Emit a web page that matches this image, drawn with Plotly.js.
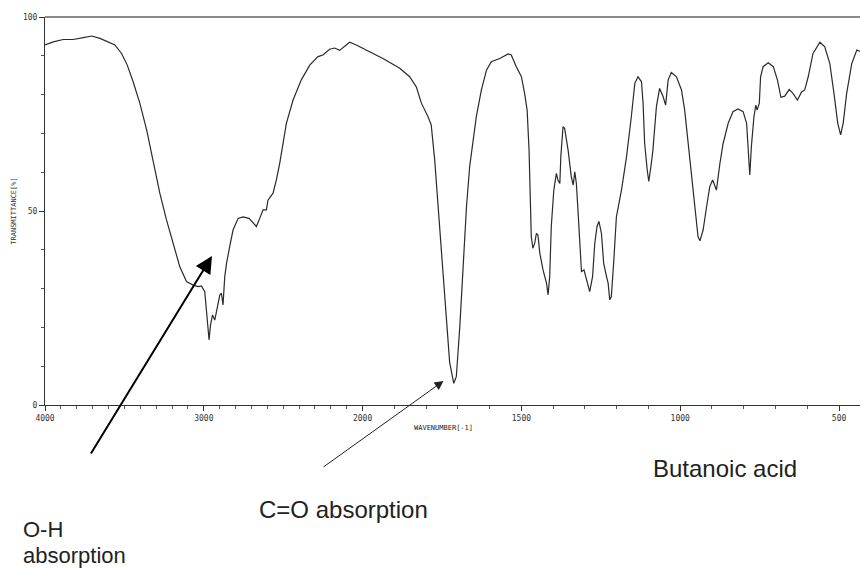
<!DOCTYPE html>
<html>
<head>
<meta charset="utf-8">
<script src="https://cdn.plot.ly/plotly-3.0.1.min.js"></script>
<style>
  html, body { margin: 0; padding: 0; background: #fff; }
  #chart { width: 860px; height: 568px; }
</style>
</head>
<body>
<div id="chart"></div>
<script>
// Wavenumber (cm-1) and % transmittance
const wavenumber = [
  4000, 3948, 3885, 3822, 3759, 3706, 3654, 3602, 3560, 3518, 3482, 3445, 3403, 3360, 3319, 3277,
  3235, 3193, 3151, 3109, 3067, 3036, 3015, 2994, 2983, 2973, 2967, 2958, 2945, 2931, 2916, 2899,
  2889, 2879, 2868, 2857, 2837, 2816, 2784, 2753, 2715, 2669, 2648, 2627, 2606, 2596, 2564, 2543,
  2522, 2501, 2480, 2438, 2386, 2333, 2281, 2250, 2208, 2176, 2145, 2103, 2082, 2040,
  1988, 1936, 1883, 1852, 1831, 1815, 1794, 1784, 1773, 1763, 1752, 1742, 1731, 1726, 1713, 1705,
  1694, 1684, 1673, 1663, 1653, 1642, 1626, 1610, 1595, 1568, 1542, 1532, 1516, 1500, 1490, 1482,
  1476, 1472, 1469, 1464, 1458, 1453, 1448, 1442, 1432, 1421, 1416, 1411, 1406, 1398, 1390, 1385,
  1379, 1376, 1369, 1364, 1353, 1343, 1337, 1332, 1327, 1322, 1316, 1311, 1303, 1295, 1285, 1276,
  1269, 1262, 1256, 1248, 1241, 1232, 1227, 1222, 1217, 1209, 1201, 1185, 1169, 1154, 1143, 1133,
  1122, 1117, 1112, 1104, 1099, 1091, 1086, 1075, 1065, 1054, 1046, 1038, 1028, 1012, 996, 986,
  975, 965, 954, 944, 938, 928, 917, 907, 898, 886, 875, 865, 849, 834, 818, 802,
  791, 786, 781, 776, 768, 762, 758, 751, 747, 739, 723, 707, 694, 683, 671, 657,
  645, 631, 618, 608, 597, 582, 560, 545, 529, 516, 504, 495, 487, 476, 460, 444, 434
];
const transmittance = [
  92.8, 93.6, 94.2, 94.2, 94.7, 95.1, 94.5, 93.6, 92.8, 90.6, 87.6, 83.3, 77.8, 70.9, 63.1, 54.6,
  47.7, 41.7, 35.6, 31.8, 30.9, 30.5, 30.7, 29.2, 24.5, 21.1, 16.8, 20.6, 23.2, 21.9, 25.3, 28.4,
  28.8, 25.8, 33.1, 36.5, 40.8, 45.1, 48.1, 48.5, 48.1, 46.0, 48.1, 50.3, 50.3, 52.8, 54.6, 58.0,
  62.3, 67.4, 72.6, 78.6, 83.8, 87.6, 89.8, 90.2, 91.7, 92.0, 91.4, 92.8, 93.5, 92.8,
  91.5, 89.3, 86.8, 84.6, 82.0, 77.8, 74.3, 72.2, 63.1, 52.0, 41.7, 28.8, 15.9, 11.0, 5.6, 7.3,
  20.2, 36.5, 51.1, 61.4, 67.4, 74.3, 81.2, 86.3, 88.5, 89.3, 90.5, 90.2, 87.2, 84.6, 80.3, 76.0,
  65.7, 53.7, 43.4, 40.4, 41.7, 44.2, 43.8, 39.1, 34.8, 31.4, 28.4, 33.1, 46.0, 55.4, 59.7, 58.0,
  57.1, 64.0, 71.7, 71.3, 65.7, 58.8, 56.7, 60.1, 57.1, 50.3, 41.7, 34.4, 34.8, 32.2, 29.2, 33.1,
  41.7, 46.0, 47.3, 44.2, 36.5, 33.1, 31.4, 27.1, 27.9, 37.4, 48.5, 55.4, 64.0, 74.3, 82.9, 84.6,
  83.3, 77.8, 67.4, 60.6, 57.6, 62.3, 65.7, 76.9, 81.6, 79.5, 77.3, 83.8, 85.7, 84.6, 81.2, 76.0,
  67.4, 58.8, 50.3, 43.4, 42.3, 45.1, 51.1, 56.3, 58.0, 55.4, 62.3, 67.4, 72.6, 75.6, 76.3, 75.6,
  72.6, 65.7, 59.3, 66.6, 74.3, 77.3, 76.0, 77.8, 84.6, 87.2, 88.2, 87.2, 83.8, 79.3, 79.6, 81.3,
  80.3, 78.6, 80.7, 81.2, 84.6, 90.6, 93.5, 92.3, 88.0, 80.3, 72.6, 69.6, 72.6, 80.3, 88.0, 91.5, 91.1
];
const xMajorTicks = [4000, 3000, 2000, 1500, 1000, 500];
const xMinorTicks = [3900, 3800, 3700, 3600, 3500, 3400, 3300, 3200, 3100, 2900, 2800, 2700, 2600,
  2500, 2400, 2300, 2200, 2100, 1900, 1800, 1700, 1600, 1400, 1300, 1200, 1100, 900, 800, 700, 600];
const yMajorTicks = [0, 50, 100];

// Instrument chart: half scale above 2000 cm-1, full scale below
function toAxis(w) { return w >= 2000 ? (4000 - w) / 2 : 1000 + (2000 - w); }

const W = 860, H = 568, L = 45, R = 0, T = 17, B = 163;
const pw = W - L - R, ph = H - T - B;
const px = x => (x - L) / pw;
const py = y => (H - B - y) / ph;

const trace = {
  x: wavenumber.map(toAxis),
  y: transmittance,
  type: 'scatter',
  mode: 'lines',
  line: { color: '#2a2a2a', width: 1.2 },
  hoverinfo: 'skip'
};

const tickFont = { family: 'DejaVu Sans Mono, monospace', size: 8, color: '#333' };
const labelFont = { family: 'Liberation Sans, Arial, sans-serif', size: 24, color: '#222' };
const ohFont = { family: 'Liberation Sans, Arial, sans-serif', size: 22, color: '#222' };

const layout = {
  width: W, height: H,
  margin: { l: L, r: R, t: T, b: B, pad: 0 },
  paper_bgcolor: '#fff', plot_bgcolor: '#fff',
  showlegend: false,
  xaxis: {
    range: [toAxis(4000), toAxis(434)],
    showgrid: false, zeroline: false,
    showline: true, linecolor: '#333', linewidth: 1,
    ticks: 'outside', ticklen: 5, tickcolor: '#333', tickwidth: 1,
    tickmode: 'array',
    tickvals: xMajorTicks.map(toAxis),
    ticktext: xMajorTicks.map(v => String(v)),
    tickfont: tickFont,
    minor: { tickmode: 'array', tickvals: xMinorTicks.map(toAxis), ticklen: 3, tickcolor: '#555', tickwidth: 1, showgrid: false },
    fixedrange: true
  },
  yaxis: {
    range: [0, 100],
    showgrid: false, zeroline: false,
    showline: true, linecolor: '#333', linewidth: 1,
    ticks: 'outside', ticklen: 5, tickcolor: '#333', tickwidth: 1,
    tickmode: 'array',
    tickvals: yMajorTicks,
    ticktext: yMajorTicks.map(v => String(v)),
    tickfont: tickFont,
    minor: { dtick: 10, ticklen: 3, tickcolor: '#555', tickwidth: 1, showgrid: false },
    title: { text: 'TRANSMITTANCE[%]', font: { family: 'DejaVu Sans Mono, monospace', size: 7, color: '#333' }, standoff: 5 },
    fixedrange: true
  },
  shapes: [
    { type: 'line', xref: 'paper', yref: 'paper', x0: 0, x1: 1, y0: 1, y1: 1,
      line: { color: '#8a8a8a', width: 2 } }
  ],
  annotations: [
    { xref: 'paper', yref: 'paper', x: px(443), y: py(428), text: 'WAVENUMBER[-1]', showarrow: false,
      xanchor: 'center', yanchor: 'middle', font: { family: 'DejaVu Sans Mono, monospace', size: 7, color: '#222' } },
    { xref: 'paper', yref: 'paper', x: px(651), y: py(468), text: 'Butanoic acid', showarrow: false,
      xanchor: 'left', yanchor: 'middle', font: labelFont },
    { xref: 'paper', yref: 'paper', x: px(257), y: py(509), text: 'C=O absorption', showarrow: false,
      xanchor: 'left', yanchor: 'middle', font: labelFont },
    { xref: 'paper', yref: 'paper', x: px(21), y: py(529), text: 'O-H', showarrow: false,
      xanchor: 'left', yanchor: 'middle', font: ohFont },
    { xref: 'paper', yref: 'paper', x: px(21), y: py(555), text: 'absorption', showarrow: false,
      xanchor: 'left', yanchor: 'middle', font: ohFont },
    { xref: 'paper', yref: 'paper', x: px(212), y: py(256), text: '', showarrow: true,
      ax: 90 - 212, ay: 455 - 256, axref: 'pixel', ayref: 'pixel',
      arrowhead: 2, arrowsize: 1.7, arrowwidth: 2, arrowcolor: '#000', standoff: 0, startstandoff: 0 },
    { xref: 'paper', yref: 'paper', x: px(443.5), y: py(381), text: '', showarrow: true,
      ax: 322 - 443.5, ay: 468 - 381, axref: 'pixel', ayref: 'pixel',
      arrowhead: 2, arrowsize: 1.8, arrowwidth: 1, arrowcolor: '#222', standoff: 0, startstandoff: 0 }
  ]
};

Plotly.newPlot('chart', [trace], layout, { staticPlot: true, displayModeBar: false });
</script>
</body>
</html>
